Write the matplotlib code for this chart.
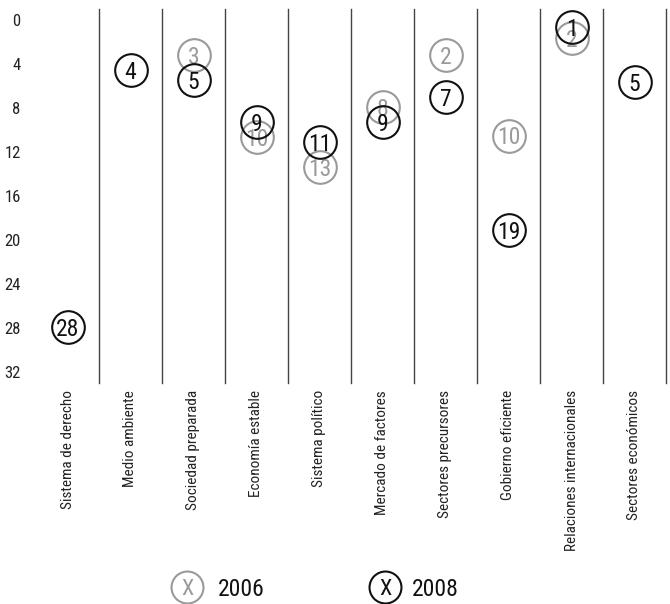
import numpy as np
import matplotlib.pyplot as plt
from matplotlib import font_manager
from matplotlib.lines import Line2D

categories = [
    "Sistema de derecho", "Medio ambiente", "Sociedad preparada",
    "Economía estable", "Sistema político", "Mercado de factores",
    "Sectores precursores", "Gobierno eficiente",
    "Relaciones internacionales", "Sectores económicos",
]

# ranks shown inside the circles
rank_2006 = [np.nan, np.nan, 3, 10, 13, 8, 2, 10, 2, np.nan]
rank_2008 = [28, 4, 5, 9, 11, 9, 7, 19, 1, 5]

# vertical position of each circle as drawn on the scale
pos_2006 = [np.nan, np.nan, 3.2, 10.6, 13.4, 7.9, 3.2, 10.5, 1.6, np.nan]
pos_2008 = [27.9, 4.55, 5.45, 9.27, 11.1, 9.27, 7.0, 19.1, 0.64, 5.6]

y_ticks = [0, 4, 8, 12, 16, 20, 24, 28, 32]

GRAY = "#9a9a9a"
BLACK = "#111111"


def pick_font():
  names = {f.name for f in font_manager.fontManager.ttflist}
  for name in ["Liberation Sans Narrow", "Roboto Condensed", "Liberation Sans"]:
    if name in names:
      return name
  return "DejaVu Sans"


FONT = pick_font()
plt.rcParams["font.family"] = [FONT, "DejaVu Sans"]


def draw_series(ax, positions, ranks, color, z):
  x = np.arange(len(positions))
  pos = np.array(positions, dtype=float)
  ok = ~np.isnan(pos)
  ax.plot(x[ok], pos[ok], linestyle="none", marker="o", markersize=23.5,
          markerfacecolor="none", markeredgecolor=color, markeredgewidth=1.5,
          zorder=z, clip_on=False)
  for xi, p, r in zip(x[ok], pos[ok], np.array(ranks)[ok]):
    ax.text(xi, p, str(int(r)), ha="center", va="center_baseline",
            fontsize=17, color=color, zorder=z + 1)


def main():
  fig = plt.figure(figsize=(6.7, 6.04), dpi=100)
  ax = fig.add_axes([36 / 670, 221 / 604, 630 / 670, 374 / 604])

  n = len(categories)
  ax.set_xlim(-0.5, n - 0.5)
  ax.set_ylim(33, -1)

  for i in range(n):
    ax.axvline(i + 0.5, color="#444444", linewidth=1.0, clip_on=False, zorder=1)

  draw_series(ax, pos_2006, rank_2006, GRAY, 3)
  draw_series(ax, pos_2008, rank_2008, BLACK, 5)

  ax.set_yticks(y_ticks)
  ax.set_yticklabels([str(t) for t in y_ticks], fontsize=12, color="#222222")
  ax.set_xticks(np.arange(n))
  ax.set_xticklabels(categories, rotation=90, fontsize=11, color="#222222",
                     va="top", ha="center")
  ax.tick_params(axis="both", length=0)
  ax.tick_params(axis="y", pad=11)
  ax.tick_params(axis="x", pad=5)
  for s in ax.spines.values():
    s.set_visible(False)

  # legend
  for cx, tx, color, label in [(187, 218, GRAY, "2006"), (385, 412, BLACK, "2008")]:
    cy = 1 - 587 / 604
    fig.add_artist(Line2D([cx / 670], [cy], transform=fig.transFigure,
                          marker="o", markersize=23, markerfacecolor="none",
                          markeredgecolor=color, markeredgewidth=1.5))
    fig.text(cx / 670, cy, "X", ha="center", va="center_baseline",
             fontsize=16, color=color)
    fig.text(tx / 670, cy, label, ha="left", va="center_baseline",
             fontsize=17, color=BLACK)

  fig.savefig("out.png", dpi=100)


if __name__ == "__main__":
  main()
